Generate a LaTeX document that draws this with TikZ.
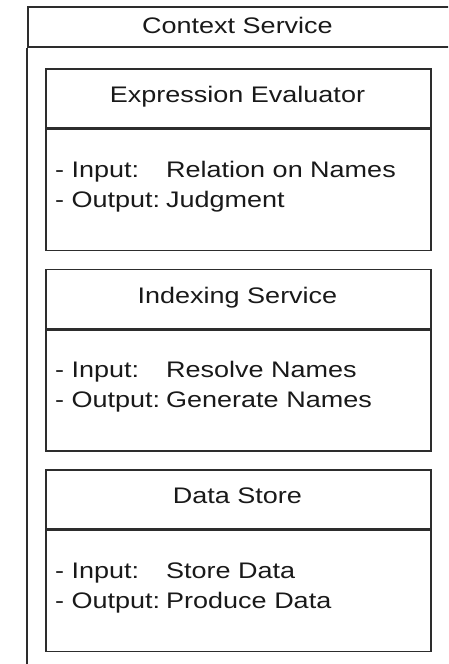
\documentclass[tikz,border=0pt]{standalone}
\usepackage{fontspec}
\setmainfont{Liberation Sans}[FakeStretch=1.2]
\usetikzlibrary{positioning}
\definecolor{linegray}{RGB}{45,45,45}
\definecolor{textgray}{RGB}{25,25,25}

\begin{document}
\begin{tikzpicture}[x=1pt, y=-1pt,
    every node/.style={font=\fontsize{22.5}{30}\selectfont, text=textgray, inner sep=0pt},
    partbox/.style={draw=linegray, line width=1.6pt, minimum width=385pt, anchor=north west}]
  \useasboundingbox (0,0) rectangle (448,664);
  \clip (0,0) rectangle (448,664);

  % outer service, runs past the right and bottom edges
  \node[draw=linegray, line width=1.6pt, minimum width=460pt, minimum height=40pt,
        anchor=north west] (ctxhead) at (27,6) {};
  \draw[linegray, line width=1.6pt] (ctxhead.south west) -- ++(0,-700pt);
  \node[anchor=base] (ctxtitle) at (237.5,33.5) {Context Service};

  % the three components
  \foreach \k/\name/\title/\inp/\outp in {%
      0/eval/Expression Evaluator/Relation on Names/Judgment,
      1/index/Indexing Service/Resolve Names/Generate Names,
      2/store/Data Store/Store Data/Produce Data} {
    \node[partbox, minimum height=59pt] (\name-head) at (45,{68+200.5*\k}) {};
    \node[partbox, minimum height=121pt, anchor=north west] (\name-body)
      at (\name-head.south west) {};
    \node[anchor=base] (\name-title) at (237.5,{102.5+200.5*\k}) {\title};
    \node[anchor=base west] (\name-in) at (55,{177+200.5*\k})
      {\makebox[111pt][l]{- Input:}\inp};
    \node[anchor=base west] (\name-out) at (55,{207+200.5*\k})
      {\makebox[111pt][l]{- Output:}\outp};
  }
\end{tikzpicture}
\end{document}
